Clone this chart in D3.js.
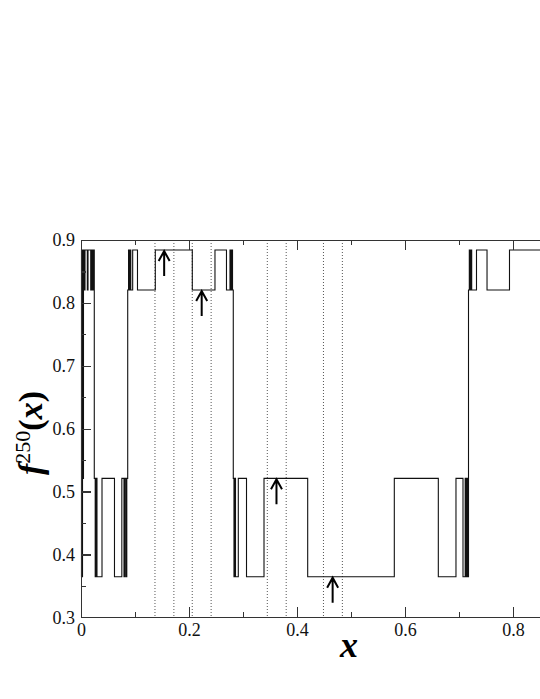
<!DOCTYPE html>
<html lang="en">
<head>
<meta charset="utf-8">
<title>f250</title>
<script src="https://cdn.jsdelivr.net/npm/d3@7"></script>
<style>
  body { margin: 0; background: #fff; }
  .axis path, .axis line { fill: none; stroke: #333; stroke-width: 1.3; shape-rendering: crispEdges; }
  .axis text { font-family: "Liberation Serif", serif; font-size: 18px; fill: #111; }
</style>
</head>
<body>
<script>
// levels of the orbit
var levels = { A: 0.884, B: 0.8205, C: 0.521, D: 0.3646 };

// step breakpoints: x where the value changes, and the level code from there on
var stepX = [0.0000, 0.0009, 0.0019, 0.0028, 0.0037, 0.0046, 0.0056, 0.0074, 0.0117, 0.0130,
             0.0180, 0.0194, 0.0213, 0.0228, 0.0246, 0.0263, 0.0281, 0.0296, 0.0389, 0.0620,
             0.0756, 0.0796, 0.0811, 0.0833, 0.0848, 0.0865, 0.0880, 0.0893, 0.0907, 0.0922,
             0.0957, 0.1046, 0.1376, 0.2061, 0.2481, 0.2694, 0.2759, 0.2774, 0.2789, 0.2806,
             0.2820, 0.2833, 0.2846, 0.2861, 0.2913, 0.3065, 0.3389, 0.4198, 0.5802, 0.6617,
             0.6944, 0.7074, 0.7115, 0.7130, 0.7144, 0.7159, 0.7176, 0.7191, 0.7204, 0.7219,
             0.7235, 0.7324, 0.7519, 0.7935, 0.8700];
var stepLevel = ["D","A","D","A","C","A","B","A","B","A",
                 "B","A","B","A","C","D","C","D","C","D",
                 "C","D","C","D","C","B","A","B","A","B",
                 "A","B","A","B","A","B","A","B","A","B",
                 "C","D","C","D","C","D","C","D","C","D",
                 "C","D","C","D","C","D","B","A","B","A",
                 "B","A","B","A","A"];

// dotted guide lines
var guideX = [0.137, 0.172, 0.206, 0.241, 0.345, 0.380, 0.449, 0.484];

// arrows: x position and level they point at
var arrowX = [0.154, 0.2235, 0.362, 0.466];
var arrowLevel = ["A", "B", "C", "D"];

var xTicks = [0, 0.2, 0.4, 0.6, 0.8, 1.0];
var xMinor = [0.1, 0.3, 0.5, 0.7, 0.9];
var yTicks = [0.3, 0.4, 0.5, 0.6, 0.7, 0.8, 0.9];
var yMinor = [0.35, 0.45, 0.55, 0.65, 0.75, 0.85];

var w = 540, h = 699;
var padLeft = 81, padRight = 621, padTop = 240, padBottom = 617.3;

var svg = d3.select("body").append("svg")
    .attr("width", w)
    .attr("height", h);

var x = d3.scaleLinear().domain([0, 1]).range([padLeft, padRight]);
var y = d3.scaleLinear().domain([0.3, 0.9]).range([padBottom, padTop]);

var fmt = function(d) { return d === 0 ? "0" : d >= 1 ? "" : d3.format(".1f")(d); };

// dotted lines
svg.selectAll(".guide")
    .data(guideX)
    .enter().append("line")
    .attr("class", "guide")
    .attr("x1", function(d) { return x(d); })
    .attr("x2", function(d) { return x(d); })
    .attr("y1", y(0.9))
    .attr("y2", y(0.3))
    .attr("stroke", "#555")
    .attr("stroke-width", 1)
    .attr("stroke-dasharray", "1,2");

// the step function
var pts = stepX.map(function(d, i) { return [d, levels[stepLevel[i]]]; });
var line = d3.line()
    .x(function(d) { return x(d[0]); })
    .y(function(d) { return y(d[1]); })
    .curve(d3.curveStepAfter);

svg.append("path")
    .datum(pts)
    .attr("d", line)
    .attr("fill", "none")
    .attr("stroke", "#111")
    .attr("stroke-width", 1.1);

// arrows
svg.selectAll(".arrow")
    .data(arrowX)
    .enter().append("path")
    .attr("class", "arrow")
    .attr("d", function(d, i) {
        var ax = x(d), tip = y(levels[arrowLevel[i]]) + 1;
        return "M" + ax + "," + (tip + 25) + "L" + ax + "," + tip +
               "M" + (ax - 5.5) + "," + (tip + 10) + "L" + ax + "," + tip + "L" + (ax + 5.5) + "," + (tip + 10);
    })
    .attr("fill", "none")
    .attr("stroke", "#000")
    .attr("stroke-width", 2);

// axes
svg.append("g").attr("class", "axis")
    .attr("transform", "translate(0," + padBottom + ")")
    .call(d3.axisBottom(x).tickValues(xTicks).tickFormat(fmt).tickSizeInner(-10).tickSizeOuter(0).tickPadding(6));
svg.append("g").attr("class", "axis")
    .attr("transform", "translate(0," + padBottom + ")")
    .call(d3.axisBottom(x).tickValues(xMinor).tickFormat("").tickSizeInner(-5).tickSizeOuter(0));
svg.append("g").attr("class", "axis")
    .attr("transform", "translate(0," + padTop + ")")
    .call(d3.axisTop(x).tickValues(xTicks).tickFormat("").tickSizeInner(-10).tickSizeOuter(0));
svg.append("g").attr("class", "axis")
    .attr("transform", "translate(0," + padTop + ")")
    .call(d3.axisTop(x).tickValues(xMinor).tickFormat("").tickSizeInner(-5).tickSizeOuter(0));
svg.append("g").attr("class", "axis")
    .attr("transform", "translate(" + padLeft + ",0)")
    .call(d3.axisLeft(y).tickValues(yTicks).tickFormat(fmt).tickSizeInner(-10).tickSizeOuter(0).tickPadding(6));
svg.append("g").attr("class", "axis")
    .attr("transform", "translate(" + padLeft + ",0)")
    .call(d3.axisLeft(y).tickValues(yMinor).tickFormat("").tickSizeInner(-5).tickSizeOuter(0));

// axis titles
svg.append("text")
    .attr("x", 349)
    .attr("y", 657)
    .attr("text-anchor", "middle")
    .style("font-family", "Liberation Serif, serif")
    .style("font-weight", "bold")
    .style("font-style", "italic")
    .style("font-size", "36px")
    .text("x");

var ylab = svg.append("text")
    .attr("transform", "translate(42,433) rotate(-90)")
    .attr("text-anchor", "middle")
    .style("font-family", "Liberation Serif, serif")
    .style("font-size", "34px");
ylab.append("tspan").style("font-weight", "bold").style("font-style", "italic").text("f");
ylab.append("tspan").attr("dy", -12).style("font-size", "22px").text("250");
ylab.append("tspan").attr("dy", 12).style("font-weight", "bold").text("(");
ylab.append("tspan").style("font-weight", "bold").style("font-style", "italic").text("x");
ylab.append("tspan").style("font-weight", "bold").text(")");
</script>
</body>
</html>
